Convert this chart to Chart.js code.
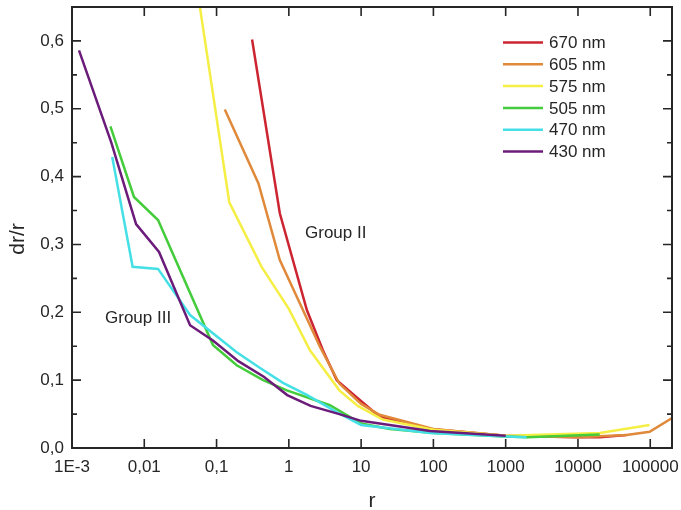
<!DOCTYPE html>
<html>
<head>
<meta charset="utf-8">
<script src="https://cdn.jsdelivr.net/npm/chart.js@4.4.1/dist/chart.umd.min.js"></script>
<style>
    html, body { margin: 0; padding: 0; background: #fff; }
    canvas { display: block; }
</style>
</head>
<body>
<canvas id="chart" width="681" height="510"></canvas>
<script>
// tick labels of the log r axis
const xTickValues = [0.001, 0.01, 0.1, 1, 10, 100, 1000, 10000, 100000];
const xTickLabels = ['1E-3', '0,01', '0,1', '1', '10', '100', '1000', '10000', '100000'];

// series: r and dr/r
const r670 = [0.31, 0.75, 1.78, 2.96, 4.6, 8.8, 18, 90, 1000, 10000, 20000, 47000];
const v670 = [0.602, 0.346, 0.203, 0.144, 0.100, 0.074, 0.046, 0.028, 0.018, 0.016, 0.016, 0.019];

const r605 = [0.13, 0.38, 0.75, 2.7, 5, 10, 18, 35, 100, 1000, 10000, 47000, 98000, 200000];
const v605 = [0.499, 0.390, 0.277, 0.149, 0.095, 0.065, 0.049, 0.041, 0.028, 0.018, 0.016, 0.019, 0.024, 0.044];

const r575 = [0.05, 0.15, 0.42, 1, 1.96, 5, 9, 20, 100, 1000, 20000, 98000];
const v575 = [0.700, 0.362, 0.267, 0.205, 0.144, 0.085, 0.062, 0.042, 0.027, 0.018, 0.022, 0.034];

const r505 = [0.0034, 0.0072, 0.0155, 0.089, 0.19, 0.44, 0.94, 3.7, 10, 25, 100, 1000, 2000, 20000];
const v505 = [0.474, 0.370, 0.336, 0.152, 0.122, 0.100, 0.085, 0.063, 0.036, 0.028, 0.022, 0.017, 0.016, 0.020];

const r470 = [0.0036, 0.0069, 0.0155, 0.043, 0.19, 0.4, 0.83, 1.8, 4.6, 10, 90, 1000, 1950];
const v470 = [0.429, 0.267, 0.264, 0.196, 0.141, 0.118, 0.096, 0.078, 0.053, 0.034, 0.022, 0.017, 0.016];

const r430 = [0.00125, 0.0035, 0.0077, 0.016, 0.043, 0.09, 0.2, 0.45, 0.95, 2, 5, 10, 90, 1000];
const v430 = [0.586, 0.450, 0.330, 0.289, 0.181, 0.158, 0.128, 0.105, 0.078, 0.062, 0.050, 0.040, 0.025, 0.018];

const FONT = "'Liberation Sans', Arial, sans-serif";
const INK = '#262626';

function toPoints(rs, vs) {
    return rs.map((x, i) => ({ x: x, y: vs[i] }));
}

function series(label, rs, vs, color, order) {
    return {
        label: label,
        data: toPoints(rs, vs),
        borderColor: color,
        backgroundColor: color,
        borderWidth: 2.5,
        pointRadius: 0,
        tension: 0,
        order: order
    };
}

// frame, inward ticks, axis titles, notes and legend
const framePlugin = {
    id: 'frame',
    afterDraw(chart) {
        const ctx = chart.ctx;
        const area = chart.chartArea;
        const xs = chart.scales.x;
        const ys = chart.scales.y;
        ctx.save();
        ctx.strokeStyle = INK;
        ctx.lineWidth = 2;
        ctx.strokeRect(area.left, area.top, area.right - area.left, area.bottom - area.top);

        ctx.lineWidth = 1.6;
        ctx.beginPath();
        ys.ticks.forEach(t => {
            const y = ys.getPixelForValue(t.value);
            const major = Math.round(t.value * 100) % 10 === 0;
            const len = major ? 9 : 5;
            ctx.moveTo(area.left, y); ctx.lineTo(area.left + len, y);
            ctx.moveTo(area.right, y); ctx.lineTo(area.right - len, y);
        });
        xTickValues.forEach(v => {
            const x = xs.getPixelForValue(v);
            ctx.moveTo(x, area.bottom); ctx.lineTo(x, area.bottom - 9);
            ctx.moveTo(x, area.top); ctx.lineTo(x, area.top + 9);
        });
        ctx.stroke();

        ctx.fillStyle = INK;
        ctx.font = '21px ' + FONT;
        ctx.textAlign = 'center';
        ctx.textBaseline = 'alphabetic';
        ctx.fillText('r', (area.left + area.right) / 2, 507);
        ctx.save();
        ctx.translate(24, 239);
        ctx.rotate(-Math.PI / 2);
        ctx.fillText('dr/r', 0, 0);
        ctx.restore();

        ctx.font = '17px ' + FONT;
        ctx.textAlign = 'left';
        ctx.fillText('Group II', 305, 238);
        ctx.fillText('Group III', 105, 323);

        // legend, top right inside the plot
        ctx.textBaseline = 'middle';
        chart.data.datasets.forEach((ds, i) => {
            const y = 42.5 + i * 21.8;
            ctx.strokeStyle = ds.borderColor;
            ctx.lineWidth = 2.5;
            ctx.beginPath();
            ctx.moveTo(503, y);
            ctx.lineTo(543, y);
            ctx.stroke();
            ctx.fillStyle = INK;
            ctx.fillText(ds.label, 549, y + 1);
        });
        ctx.restore();
    }
};

new Chart(document.getElementById('chart'), {
    type: 'line',
    data: {
        datasets: [
            series('670 nm', r670, v670, '#cc2430', 6),
            series('605 nm', r605, v605, '#e0893a', 5),
            series('575 nm', r575, v575, '#f5ef45', 4),
            series('505 nm', r505, v505, '#45cc3c', 3),
            series('470 nm', r470, v470, '#45e0e6', 2),
            series('430 nm', r430, v430, '#6b1c7a', 1)
        ]
    },
    options: {
        responsive: false,
        animation: false,
        devicePixelRatio: 1,
        layout: { padding: { left: 0, top: 7, right: 9, bottom: 0 } },
        plugins: {
            legend: { display: false },
            tooltip: { enabled: false }
        },
        scales: {
            x: {
                type: 'logarithmic',
                min: 0.001,
                max: 200000,
                grid: { display: false, drawTicks: false },
                border: { display: false },
                afterBuildTicks(scale) {
                    scale.ticks = xTickValues.map(v => ({ value: v }));
                },
                afterFit(scale) {
                    scale.height = 62;
                    scale.paddingLeft = 0;
                    scale.paddingRight = 0;
                },
                ticks: {
                    autoSkip: false,
                    maxRotation: 0,
                    padding: 9,
                    color: INK,
                    font: { family: FONT, size: 17 },
                    callback(value) {
                        const i = xTickValues.findIndex(v => Math.abs(Math.log10(v) - Math.log10(value)) < 1e-6);
                        return i >= 0 ? xTickLabels[i] : '';
                    }
                }
            },
            y: {
                type: 'linear',
                min: 0,
                max: 0.65,
                grid: { display: false, drawTicks: false },
                border: { display: false },
                afterFit(scale) {
                    scale.width = 72;
                    scale.paddingTop = 0;
                    scale.paddingBottom = 0;
                },
                ticks: {
                    stepSize: 0.05,
                    autoSkip: false,
                    padding: 8,
                    color: INK,
                    font: { family: FONT, size: 17 },
                    callback(value) {
                        const c = Math.round(value * 100);
                        return c % 10 === 0 ? (c / 100).toFixed(1).replace('.', ',') : '';
                    }
                }
            }
        }
    },
    plugins: [framePlugin]
});
</script>
</body>
</html>
